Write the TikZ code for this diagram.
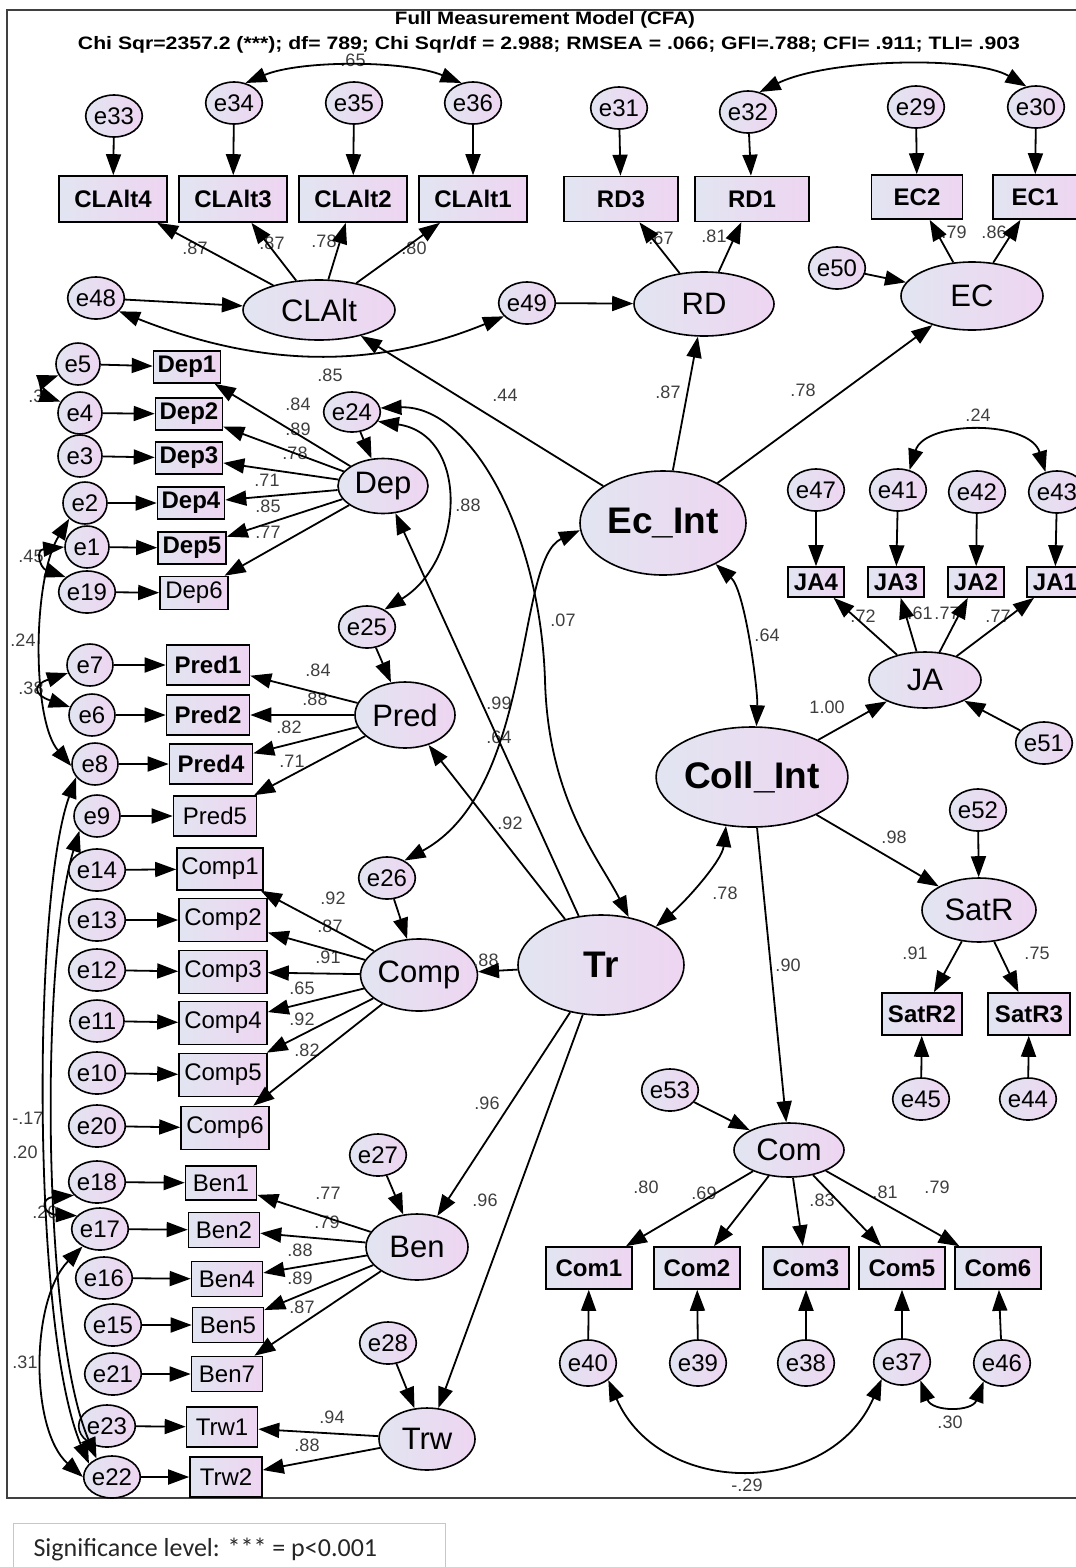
\documentclass[tikz,border=0pt]{standalone}
\usepackage{fontspec}
\usepackage{graphicx}
\setmainfont{Liberation Sans}
\newfontfamily\notefont{Carlito}
\usetikzlibrary{arrows.meta,shapes.geometric}
\definecolor{shL}{RGB}{226,229,241}
\definecolor{shR}{RGB}{238,213,241}
\definecolor{coef}{RGB}{62,62,62}
\tikzset{
  base/.style={draw=black, line width=1.6pt, left color=shL, right color=shR, inner sep=0pt, text=black},
  sz/.style 2 args={minimum width=#1pt, minimum height=#2pt},
  errc/.style={base, ellipse, sz={44}{42}, font=\fontsize{24}{24}\selectfont},
  errw/.style={errc, sz={50}{42}},
  errb/.style={errc, sz={52}{46}},
  obs/.style={base, rectangle, font=\fontsize{24}{24}\selectfont},
  obsb/.style={obs, font=\fontsize{24}{24}\selectfont\bfseries},
  lat/.style={base, ellipse, font=\fontsize{31}{31}\selectfont},
  latb/.style={lat, font=\fontsize{37}{37}\selectfont\bfseries},
  reg/.style={line width=1.8pt, -{Triangle[length=21pt,width=15pt]}},
  cov/.style={line width=1.8pt, {Triangle[length=21pt,width=15pt]}-{Triangle[length=21pt,width=15pt]}},
  cf/.style={font=\fontsize{18}{18}\selectfont, text=coef, inner sep=0pt},
}
\begin{document}
\begin{tikzpicture}[x=1pt,y=-1pt]
\useasboundingbox (0,0) rectangle (1076,1567);
% outer frame
\draw[line width=1.2pt, black!75] (1076,10) -- (7,10) -- (7,1498) -- (1076,1498);
% legend box
\draw[line width=0.8pt, black!22] (13,1590) -- (13,1523) -- (445,1523) -- (445,1590);
\node[anchor=west, font=\notefont\fontsize{26}{26}\selectfont, text=black!85] (sig) at (30,1549) {Significance level: *** = p<0.001};

% fit indices
\node[font=\fontsize{18}{18}\selectfont\bfseries] (ttl) at (545,20) {\resizebox{300pt}{\height}{Full Measurement Model (CFA)}};
\node[font=\fontsize{18}{18}\selectfont\bfseries] (fit) at (549,45) {\resizebox{942pt}{\height}{Chi Sqr=2357.2 (***); df= 789; Chi Sqr/df = 2.988; RMSEA = .066; GFI=.788; CFI= .911; TLI= .903}};

% ---------- CLAlt block ----------
\node[errc] (e33) at (114,116) {e33};
\node[errc] (e34) at (234,103) {e34};
\node[errc] (e35) at (354,103) {e35};
\node[errc] (e36) at (473,103) {e36};
\node[obsb,sz={108}{46}] (CLAlt4) at (113,199) {CLAlt4};
\node[obsb,sz={108}{46}] (CLAlt3) at (233,199) {CLAlt3};
\node[obsb,sz={108}{46}] (CLAlt2) at (353,199) {CLAlt2};
\node[obsb,sz={108}{46}] (CLAlt1) at (473,199) {CLAlt1};
\node[lat,sz={152}{60}] (CLAlt) at (319,310) {CLAlt};
\node[errc] (e48) at (96,298) {e48};
\node[errc] (e49) at (527,303) {e49};

% ---------- RD / EC ----------
\node[errc] (e31) at (619,108) {e31};
\node[errc] (e32) at (748,112) {e32};
\node[obsb,sz={114}{45}] (RD3) at (621,199) {RD3};
\node[obsb,sz={114}{45}] (RD1) at (752,199) {RD1};
\node[lat,sz={140}{64}] (RD) at (704,304) {RD};
\node[errc] (e29) at (916,107) {e29};
\node[errc] (e30) at (1036,107) {e30};
\node[obsb,sz={91}{44}] (EC2) at (917,197) {EC2};
\node[obsb,sz={84}{44}] (EC1) at (1035,197) {EC1};
\node[lat,sz={142}{68}] (EC) at (972,296) {EC};
\node[errc] (e50) at (837,268) {e50};

% ---------- second-order factors ----------
\node[latb,sz={166}{104}] (EcInt) at (663,523) {Ec\_Int};
\node[latb,sz={166}{100}] (CollInt) at (752,777) {Coll\_Int};
\node[latb,sz={166}{100}] (Tr) at (601,965) {Tr};

% ---------- Dep ----------
\node[lat,sz={90}{55}] (Dep) at (383,486) {Dep};
\node[errc,sz={42}{40}] (e24) at (352,412) {e24};
\node[obsb,sz={67}{32}] (Dep1) at (187,367) {Dep1};
\node[obsb,sz={67}{32}] (Dep2) at (189,414) {Dep2};
\node[obsb,sz={67}{32}] (Dep3) at (189,458) {Dep3};
\node[obsb,sz={67}{32}] (Dep4) at (191,503) {Dep4};
\node[obsb,sz={68}{32}] (Dep5) at (192,548) {Dep5};
\node[obs,sz={68}{33}] (Dep6) at (194,593) {Dep6};
\node[errc] (e5) at (78,364) {e5};
\node[errc] (e4) at (80,413) {e4};
\node[errc] (e3) at (80,456) {e3};
\node[errc] (e2) at (85,503) {e2};
\node[errc] (e1) at (87,547) {e1};
\node[errc] (e19) at (87,592) {e19};

% ---------- Pred ----------
\node[lat,sz={100}{66}] (Pred) at (405,715) {Pred};
\node[errc] (e25) at (367,627) {e25};
\node[obsb,sz={83}{40}] (Pred1) at (208,665) {Pred1};
\node[obsb,sz={83}{40}] (Pred2) at (208,715) {Pred2};
\node[obsb,sz={83}{40}] (Pred4) at (211,764) {Pred4};
\node[obs,sz={83}{40}] (Pred5) at (215,816) {Pred5};
\node[errc,sz={46}{42}] (e7) at (90,665) {e7};
\node[errc,sz={46}{42}] (e6) at (92,715) {e6};
\node[errc,sz={46}{42}] (e8) at (95,764) {e8};
\node[errc,sz={46}{42}] (e9) at (97,816) {e9};

% ---------- Comp ----------
\node[lat,sz={112}{72}] (Comp) at (419,975) {Comp};
\node[errc] (e26) at (387,878) {e26};
\node[obs,sz={86}{42}] (Comp1) at (220,869) {Comp1};
\node[obs,sz={88}{43}] (Comp2) at (223,920) {Comp2};
\node[obs,sz={88}{43}] (Comp3) at (223,972) {Comp3};
\node[obs,sz={88}{43}] (Comp4) at (223,1023) {Comp4};
\node[obs,sz={88}{43}] (Comp5) at (223,1075) {Comp5};
\node[obs,sz={88}{43}] (Comp6) at (225,1128) {Comp6};
\node[errw] (e14) at (97,870) {e14};
\node[errw] (e13) at (97,920) {e13};
\node[errw] (e12) at (97,970) {e12};
\node[errw] (e11) at (97,1021) {e11};
\node[errw] (e10) at (97,1073) {e10};
\node[errw] (e20) at (97,1126) {e20};

% ---------- Ben / Trw ----------
\node[lat,sz={102}{66}] (Ben) at (417,1247) {Ben};
\node[errc] (e27) at (378,1155) {e27};
\node[obs,sz={71}{34}] (Ben1) at (221,1183) {Ben1};
\node[obs,sz={71}{35}] (Ben2) at (224,1230) {Ben2};
\node[obs,sz={71}{35}] (Ben4) at (227,1279) {Ben4};
\node[obs,sz={71}{35}] (Ben5) at (228,1325) {Ben5};
\node[obs,sz={71}{35}] (Ben7) at (227,1374) {Ben7};
\node[errw] (e18) at (97,1182) {e18};
\node[errw] (e17) at (100,1229) {e17};
\node[errw] (e16) at (104,1278) {e16};
\node[errw] (e15) at (113,1325) {e15};
\node[errw] (e21) at (113,1374) {e21};
\node[errw] (e23) at (107,1426) {e23};
\node[errw] (e22) at (112,1477) {e22};
\node[lat,sz={96}{62}] (Trw) at (427,1439) {Trw};
\node[errc] (e28) at (388,1343) {e28};
\node[obs,sz={71}{40}] (Trw1) at (222,1427) {Trw1};
\node[obs,sz={72}{40}] (Trw2) at (226,1477) {Trw2};

% ---------- JA ----------
\node[lat,sz={112}{56}] (JA) at (925,680) {JA};
\node[obsb,sz={56}{30}] (JA4) at (816,582) {JA4};
\node[obsb,sz={56}{30}] (JA3) at (896,582) {JA3};
\node[obsb,sz={56}{30}] (JA2) at (976,582) {JA2};
\node[obsb,sz={56}{30}] (JA1) at (1055,582) {JA1};
\node[errc,sz={42}{42}] (e47) at (816,490) {e47};
\node[errc,sz={42}{42}] (e41) at (898,490) {e41};
\node[errc,sz={42}{42}] (e42) at (977,492) {e42};
\node[errc,sz={42}{42}] (e43) at (1057,492) {e43};
\node[errc,sz={42}{42}] (e51) at (1044,743) {e51};

% ---------- SatR ----------
\node[lat,sz={114}{64}] (SatR) at (979,910) {SatR};
\node[errc,sz={42}{42}] (e52) at (978,810) {e52};
\node[obsb,sz={80}{42}] (SatR2) at (922,1014) {SatR2};
\node[obsb,sz={82}{42}] (SatR3) at (1029,1014) {SatR3};
\node[errc,sz={42}{42}] (e45) at (921,1099) {e45};
\node[errc,sz={42}{42}] (e44) at (1028,1099) {e44};

% ---------- Com ----------
\node[lat,sz={110}{54}] (Com) at (789,1150) {Com};
\node[errc,sz={42}{42}] (e53) at (670,1090) {e53};
\node[obsb,sz={86}{42}] (Com1) at (589,1268) {Com1};
\node[obsb,sz={86}{42}] (Com2) at (697,1268) {Com2};
\node[obsb,sz={86}{42}] (Com3) at (806,1268) {Com3};
\node[obsb,sz={86}{42}] (Com5) at (902,1268) {Com5};
\node[obsb,sz={86}{42}] (Com6) at (998,1268) {Com6};
\node[errb] (e40) at (588,1363) {e40};
\node[errb] (e39) at (698,1363) {e39};
\node[errb] (e38) at (806,1363) {e38};
\node[errb] (e37) at (902,1362) {e37};
\node[errb] (e46) at (1002,1363) {e46};

% ---------- coefficient labels ----------
\foreach \p/\t in {
  {(353,60)}/.65, {(195,248)}/.87, {(272,243)}/.87, {(324,241)}/.78, {(414,248)}/.80,
  {(661,238)}/.67, {(714,236)}/.81, {(954,232)}/.79, {(994,232)}/.86,
  {(505,395)}/.44, {(668,392)}/.87, {(803,390)}/.78, {(330,375)}/.85,
  {(298,404)}/.84, {(298,429)}/.89, {(295,453)}/.78, {(267,480)}/.71, {(268,506)}/.85, {(268,532)}/.77,
  {(468,505)}/.88, {(563,620)}/.07, {(767,635)}/.64, {(499,703)}/.99, {(499,737)}/.64, {(510,823)}/.92,
  {(318,670)}/.84, {(315,699)}/.88, {(289,727)}/.82, {(292,761)}/.71,
  {(333,898)}/.92, {(330,926)}/.87, {(328,957)}/.91, {(302,988)}/.65, {(302,1019)}/.92, {(307,1050)}/.82,
  {(486,960)}/.88, {(487,1103)}/.96, {(485,1200)}/.96,
  {(328,1193)}/.77, {(327,1222)}/.79, {(300,1250)}/.88, {(300,1278)}/.89, {(302,1307)}/.87,
  {(332,1417)}/.94, {(307,1445)}/.88,
  {(725,893)}/.78, {(788,965)}/.90, {(894,837)}/.98, {(827,707)}/1.00, {(978,415)}/.24,
  {(863,616)}/.72, {(920,613)}/.61, {(947,613)}/.77, {(998,616)}/.77,
  {(915,953)}/.91, {(1037,953)}/.75,
  {(646,1187)}/.80, {(704,1193)}/.69, {(822,1200)}/.83, {(885,1192)}/.81, {(937,1187)}/.79,
  {(950,1422)}/.30, {(747,1485)}/-.29,
  {(36,396)}/.3, {(31,556)}/.45, {(23,640)}/.24, {(31,688)}/.38,
  {(28,1118)}/-.17, {(25,1152)}/.20, {(45,1212)}/.20, {(25,1362)}/.31}
  \node[cf] at \p {\t};

% ---------- error terms to indicators ----------
\foreach \a/\b in {e33/CLAlt4, e34/CLAlt3, e35/CLAlt2, e36/CLAlt1, e31/RD3, e32/RD1, e29/EC2, e30/EC1,
  e5/Dep1, e4/Dep2, e3/Dep3, e2/Dep4, e1/Dep5, e19/Dep6,
  e7/Pred1, e6/Pred2, e8/Pred4, e9/Pred5,
  e14/Comp1, e13/Comp2, e12/Comp3, e11/Comp4, e10/Comp5, e20/Comp6,
  e18/Ben1, e17/Ben2, e16/Ben4, e15/Ben5, e21/Ben7, e23/Trw1, e22/Trw2,
  e47/JA4, e41/JA3, e42/JA2, e43/JA1, e45/SatR2, e44/SatR3,
  e40/Com1, e39/Com2, e38/Com3, e37/Com5, e46/Com6}
  \draw[reg] (\a) -- (\b);

% ---------- disturbances to factors ----------
\foreach \a/\b in {e48/CLAlt, e49/RD, e50/EC, e24/Dep, e25/Pred, e26/Comp, e27/Ben, e28/Trw,
  e51/JA, e52/SatR, e53/Com}
  \draw[reg] (\a) -- (\b);

% ---------- loadings ----------
\foreach \a/\b in {CLAlt/CLAlt4, CLAlt/CLAlt3, CLAlt/CLAlt2, CLAlt/CLAlt1, RD/RD3, RD/RD1, EC/EC2, EC/EC1,
  Dep/Dep1, Dep/Dep2, Dep/Dep3, Dep/Dep4, Dep/Dep5, Dep/Dep6,
  Pred/Pred1, Pred/Pred2, Pred/Pred4, Pred/Pred5,
  Comp/Comp1, Comp/Comp2, Comp/Comp3, Comp/Comp4, Comp/Comp5, Comp/Comp6,
  Ben/Ben1, Ben/Ben2, Ben/Ben4, Ben/Ben5, Ben/Ben7, Trw/Trw1, Trw/Trw2,
  JA/JA4, JA/JA3, JA/JA2, JA/JA1, SatR/SatR2, SatR/SatR3,
  Com/Com1, Com/Com2, Com/Com3, Com/Com5, Com/Com6,
  EcInt/CLAlt, EcInt/RD, EcInt/EC, CollInt/JA, CollInt/SatR, CollInt/Com,
  Tr/Dep, Tr/Pred, Tr/Comp, Tr/Ben, Tr/Trw}
  \draw[reg] (\a) -- (\b);

% ---------- covariances ----------
\draw[cov] (e34.60) .. controls (300,60) and (405,60) .. (e36.120);
\draw[cov] (e32.60) .. controls (830,58) and (975,56) .. (e30.115);
\draw[cov] (e41.60) .. controls (925,420) and (1030,420) .. (e43.120);
\draw[cov] (e48.-30) .. controls (257,366) and (370,371) .. (e49.-150);
\draw[cov] (e24.-20) .. controls (470,435) and (465,560) .. (e25.45);
\draw[cov] (e24.8) .. controls (470,405) and (540,530) .. (545,680) .. controls (548,800) and (600,860) .. (Tr.60);
\draw[cov] (EcInt.185) .. controls (515,560) and (535,790) .. (e26.45);
\draw[cov] (EcInt.-38) .. controls (745,590) and (758,690) .. (CollInt.85);
\draw[cov] (CollInt.-118) .. controls (722,861) and (685,902) .. (Tr.35);
\draw[cov] (e40.-40) .. controls (660,1498) and (830,1498) .. (e37.-140);
\draw[cov] (e37.-45) .. controls (932,1412) and (972,1412) .. (e46.-135);
\draw[cov] (e5.210) .. controls (40,382) and (42,395) .. (e4.150);
\draw[cov] (e1.180) .. controls (35,550) and (40,568) .. (e19.145);
\draw[cov] (e2.225) .. controls (32,580) and (32,720) .. (e8.185);
\draw[cov] (e7.200) .. controls (32,685) and (34,695) .. (e6.160);
\draw[cov] (e8.215) .. controls (32,900) and (32,1330) .. (e22.150);
\draw[cov] (e9.220) .. controls (40,960) and (42,1330) .. (e22.130);
\draw[cov] (e18.210) .. controls (40,1198) and (42,1214) .. (e17.150);
\draw[cov] (e17.225) .. controls (30,1300) and (30,1430) .. (e22.180);
\end{tikzpicture}
\end{document}
